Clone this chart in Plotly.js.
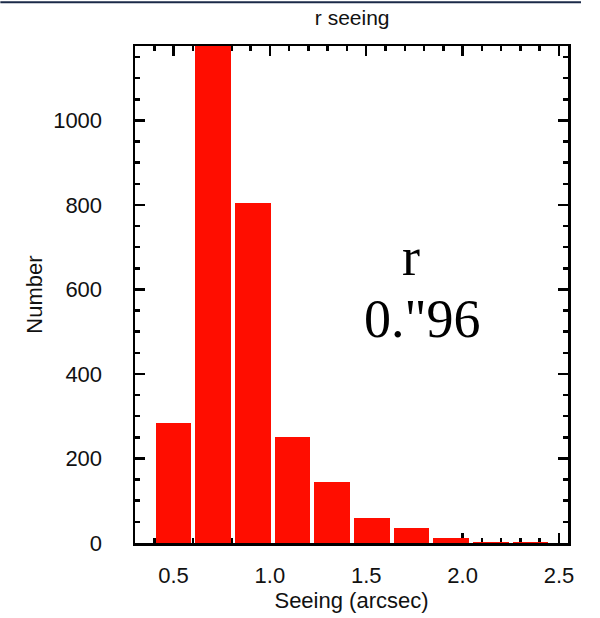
<!DOCTYPE html>
<html>
<head>
<meta charset="utf-8">
<script src="https://cdn.plot.ly/plotly-3.0.1.min.js"></script>
<style>
html,body{margin:0;padding:0;background:#fff;}
#chart{width:600px;height:618px;}
</style>
</head>
<body>
<div id="chart"></div>
<script>
// Histogram of r-band seeing (bin centers in arcsec, counts)
const binCenters = [0.50, 0.706, 0.912, 1.117, 1.323, 1.529, 1.735, 1.94, 2.146, 2.352];
const counts = [283, 1180, 804, 250, 145, 58, 36, 11, 3, 2];
const binWidth = 0.186;
const xTickVals = [0.5, 1.0, 1.5, 2.0, 2.5];
const xTickText = ["0.5", "1.0", "1.5", "2.0", "2.5"];
const yTickVals = [0, 200, 400, 600, 800, 1000];
const yTickText = ["0", "200", "400", "600", "800", "1000"];
const titleText = "r seeing";
const xTitle = "Seeing (arcsec)";
const yTitle = "Number";
const noteBand = "r";
const noteValue = '0."96';

const font = {family: "Liberation Sans, Arial, sans-serif", size: 22, color: "#111"};

const trace = {
  type: "bar",
  x: binCenters,
  y: counts,
  width: binWidth,
  marker: {color: "#ff0d00", line: {width: 0}},
  hoverinfo: "x+y"
};

const axisCommon = {
  showline: true, linecolor: "#000", linewidth: 2.5, mirror: "ticks",
  ticks: "inside", tickcolor: "#000", tickwidth: 2.5, ticklen: 10,
  showgrid: false, zeroline: false, layer: "below traces",
  tickfont: font
};

const layout = {
  width: 600, height: 618,
  margin: {l: 135, r: 32, t: 46, b: 75},
  paper_bgcolor: "#fff", plot_bgcolor: "#fff",
  showlegend: false,
  bargap: 0,
  title: {text: titleText, font: {family: font.family, size: 21, color: "#111"},
          x: 0.587, xref: "container", xanchor: "center", y: 0.972, yref: "container", yanchor: "middle"},
  xaxis: Object.assign({}, axisCommon, {
    range: [0.30, 2.547],
    tickmode: "array", tickvals: xTickVals, ticktext: xTickText,
    minor: {dtick: 0.1, tick0: 0, ticks: "inside", ticklen: 5, tickwidth: 2.5, tickcolor: "#000"},
    ticklabelstandoff: 11,
    title: {text: xTitle, font: font, standoff: 6}
  }),
  yaxis: Object.assign({}, axisCommon, {
    range: [0, 1176],
    tickmode: "array", tickvals: yTickVals, ticktext: yTickText,
    minor: {dtick: 50, tick0: 0, ticks: "inside", ticklen: 5, tickwidth: 2.5, tickcolor: "#000"},
    ticklabelstandoff: 26,
    title: {text: yTitle, font: font, standoff: 5}
  }),
  annotations: [
    {xref: "paper", yref: "paper", x: 0.637, y: 0.575, text: noteBand, showarrow: false,
     font: {family: "Liberation Serif, Times New Roman, serif", size: 54, color: "#000"}, xanchor: "center", yanchor: "middle"},
    {xref: "paper", yref: "paper", x: 0.663, y: 0.45, text: noteValue, showarrow: false,
     font: {family: "Liberation Serif, Times New Roman, serif", size: 54, color: "#000"}, xanchor: "center", yanchor: "middle"}
  ],
  shapes: [
    {type: "line", xref: "paper", yref: "paper", x0: -0.311, x1: 1.03, y0: 1.088, y1: 1.088,
     line: {color: "#1b2a48", width: 2}}
  ]
};

Plotly.newPlot("chart", [trace], layout, {displayModeBar: false, staticPlot: true});
</script>
</body>
</html>
